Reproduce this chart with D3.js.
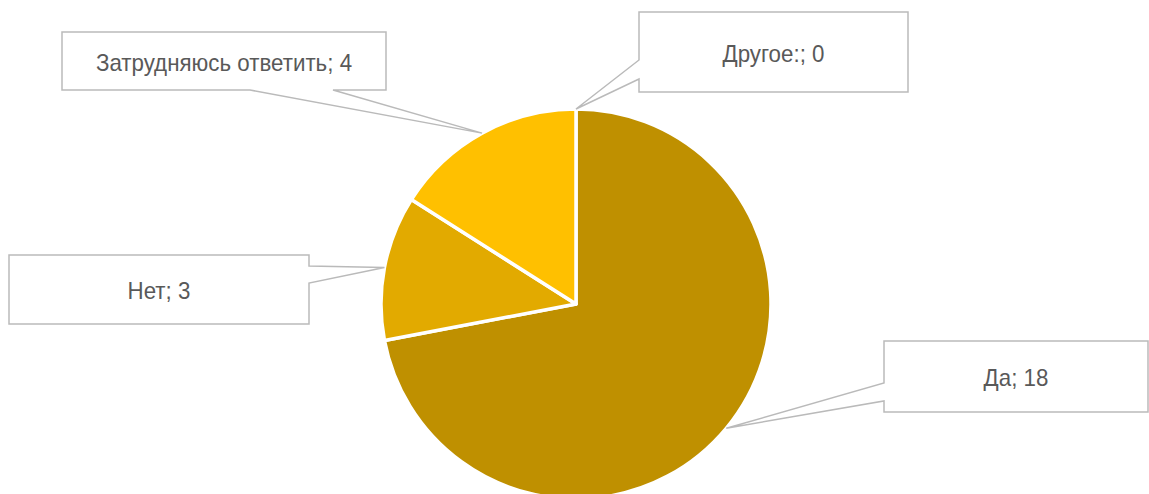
<!DOCTYPE html>
<html><head><meta charset="utf-8">
<script src="https://cdn.jsdelivr.net/npm/d3@7"></script>
<style>
html,body{margin:0;padding:0;background:#fff;}
svg{display:block;}
</style></head>
<body>
<svg id="chart" width="1149" height="494"></svg>
<script>
// ---- data ----
const categories = ["Да", "Нет", "Затрудняюсь ответить", "Другое:"];
const values = [18, 3, 4, 0];
const colors = ["#BF9000", "#E2AA00", "#FFC000", "#FFD966"];

// ---- layout (label callout boxes) ----
const boxes = [
  {x: 884, y: 341, w: 264, h: 71, side: "left",   b0: 383, b1: 401},
  {x: 9,   y: 255, w: 300, h: 69, side: "right",  b0: 266, b1: 283},
  {x: 62,  y: 32,  w: 324, h: 58, side: "bottom", b0: 250, b1: 333},
  {x: 639, y: 12,  w: 269, h: 80, side: "left",   b0: 60,  b1: 79}
];

const svg = d3.select("#chart");
const cx = 576, cy = 304, r = 195;

const data = categories.map((c, i) => ({cat: c, val: values[i], i}));
const pie = d3.pie().sort(null).value(d => d.val);
const arcs = pie(data);
const arc = d3.arc().innerRadius(0).outerRadius(r);

const g = svg.append("g").attr("transform", `translate(${cx},${cy})`);
g.selectAll("path.slice")
  .data(arcs.filter(a => a.data.val > 0))
  .join("path")
  .attr("class", "slice")
  .attr("d", arc)
  .attr("fill", d => colors[d.data.i])
  .attr("stroke", "#fff")
  .attr("stroke-width", 3.5)
  .attr("stroke-linejoin", "round");

// callouts
function calloutPath(b, tx, ty) {
  const x0 = b.x, y0 = b.y, x1 = b.x + b.w, y1 = b.y + b.h;
  const p = d3.path();
  p.moveTo(x0, y0);
  p.lineTo(x1, y0);
  if (b.side === "right") { p.lineTo(x1, b.b0); p.lineTo(tx, ty); p.lineTo(x1, b.b1); }
  p.lineTo(x1, y1);
  if (b.side === "bottom") { p.lineTo(b.b1, y1); p.lineTo(tx, ty); p.lineTo(b.b0, y1); }
  p.lineTo(x0, y1);
  if (b.side === "left") { p.lineTo(x0, b.b1); p.lineTo(tx, ty); p.lineTo(x0, b.b0); }
  p.closePath();
  return p.toString();
}

const labelG = svg.append("g");
arcs.forEach((a, i) => {
  const b = boxes[i];
  const mid = (a.startAngle + a.endAngle) / 2;
  const tr = r;
  const tx = cx + tr * Math.sin(mid);
  const ty = cy - tr * Math.cos(mid);
  labelG.append("path")
    .attr("d", calloutPath(b, tx, ty))
    .attr("fill", "#fff")
    .attr("stroke", "#BABABA")
    .attr("stroke-width", 1.5);
  const t = labelG.append("text")
    .attr("x", b.x + b.w / 2)
    .attr("y", b.y + b.h / 2 + 1)
    .attr("dy", "0.36em")
    .attr("text-anchor", "middle")
    .attr("font-family", "'Liberation Sans', Arial, sans-serif")
    .attr("font-size", 24)
    .attr("fill", "#595959")
    .text(`${a.data.cat}; ${a.data.val}`);
  const len = t.node().getComputedTextLength();
  t.attr("textLength", len * 0.93).attr("lengthAdjust", "spacingAndGlyphs");
});
</script>
</body></html>
